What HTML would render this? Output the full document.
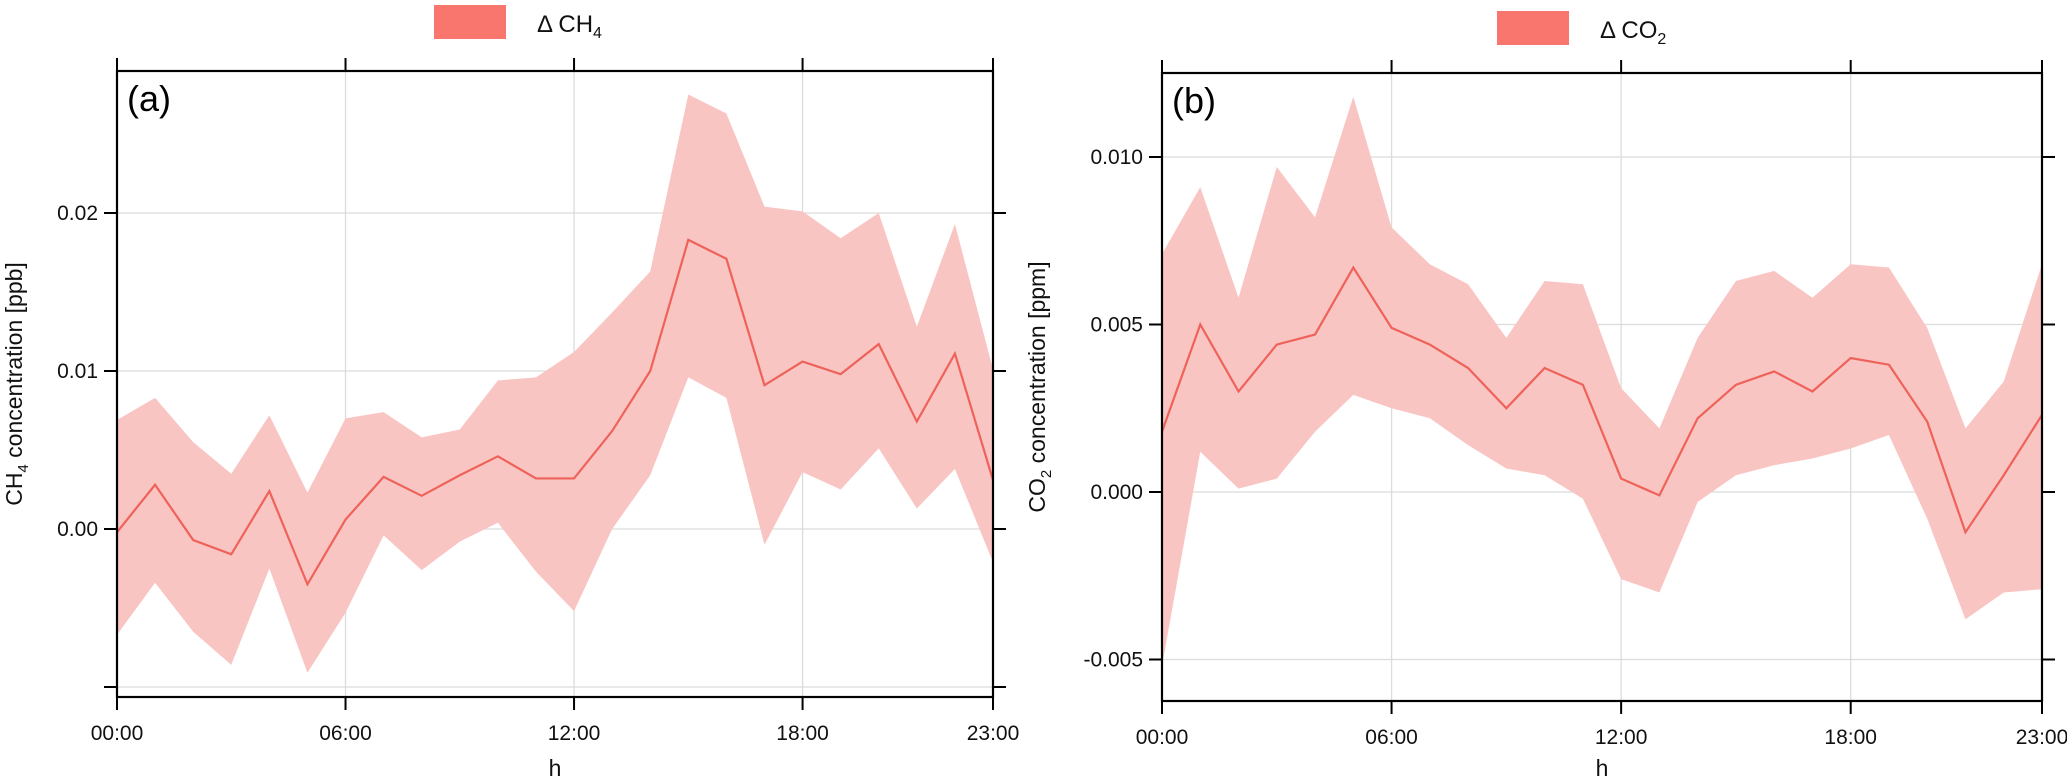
<!DOCTYPE html>
<html><head><meta charset="utf-8"><style>
html,body{margin:0;padding:0;background:#fff;}
svg{display:block;font-family:"Liberation Sans",sans-serif;}
</style></head><body>
<svg id="chart" width="2067" height="783" viewBox="0 0 2067 783" xmlns="http://www.w3.org/2000/svg"></svg>
<script>
const hours = [0,1,2,3,4,5,6,7,8,9,10,11,12,13,14,15,16,17,18,19,20,21,22,23];
const xTickHours = [0,6,12,18,23];
const xTickLabels = ["00:00","06:00","12:00","18:00","23:00"];
const ch4Mean = [-0.0002,0.0028,-0.0007,-0.0016,0.0024,-0.0035,0.0006,0.0033,0.0021,0.0034,0.0046,0.0032,0.0032,0.0062,0.0100,0.0183,0.0171,0.0091,0.0106,0.0098,0.0117,0.0068,0.0111,0.0031];
const ch4Upper = [0.0069,0.0083,0.0055,0.0035,0.0072,0.0023,0.0070,0.0074,0.0058,0.0063,0.0094,0.0096,0.0112,0.0137,0.0163,0.0275,0.0263,0.0204,0.0201,0.0184,0.0200,0.0128,0.0193,0.0101];
const ch4Lower = [-0.0067,-0.0034,-0.0065,-0.0086,-0.0025,-0.0091,-0.0053,-0.0004,-0.0026,-0.0008,0.0004,-0.0027,-0.0052,0.0000,0.0034,0.0096,0.0083,-0.0010,0.0036,0.0025,0.0051,0.0013,0.0038,-0.0021];
const ch4Ticks = [-0.01,0,0.01,0.02];
const ch4TickLabels = ["","0.00","0.01","0.02"];
const co2Mean = [0.0018,0.0050,0.0030,0.0044,0.0047,0.0067,0.0049,0.0044,0.0037,0.0025,0.0037,0.0032,0.0004,-0.0001,0.0022,0.0032,0.0036,0.0030,0.0040,0.0038,0.0021,-0.0012,0.0005,0.0023];
const co2Upper = [0.0071,0.0091,0.0058,0.0097,0.0082,0.0118,0.0079,0.0068,0.0062,0.0046,0.0063,0.0062,0.0031,0.0019,0.0046,0.0063,0.0066,0.0058,0.0068,0.0067,0.0049,0.0019,0.0033,0.0068];
const co2Lower = [-0.0052,0.0012,0.0001,0.0004,0.0018,0.0029,0.0025,0.0022,0.0014,0.0007,0.0005,-0.0002,-0.0026,-0.0030,-0.0003,0.0005,0.0008,0.0010,0.0013,0.0017,-0.0008,-0.0038,-0.0030,-0.0029];
const co2Ticks = [-0.005,0,0.005,0.010];
const co2TickLabels = ["-0.005","0.000","0.005","0.010"];

const NS="http://www.w3.org/2000/svg";
const svg=document.getElementById('chart');
function mk(tag,attrs,parent){const e=document.createElementNS(NS,tag);for(const k in attrs)e.setAttribute(k,attrs[k]);(parent||svg).appendChild(e);return e;}

function panel(cfg){
  const g=mk('g',{});
  
  
  const xs=h=>cfg.left+(h/23)*(cfg.right-cfg.left);
  const ys=v=>cfg.y0-(v/cfg.step)*cfg.stepPx;
  // grid
  xTickHours.forEach(h=>{const l=mk('line',{x1:xs(h),x2:xs(h),y1:cfg.top,y2:cfg.bottom,stroke:'#dcdcdc','stroke-width':1.3},g);
    
    });
  cfg.ticks.forEach(v=>{const l=mk('line',{x1:cfg.left,x2:cfg.right,y1:ys(v),y2:ys(v),stroke:'#dcdcdc','stroke-width':1.3},g);
    
    });
  // band
  let d='';
  hours.forEach((h,i)=>{d+=(i?'L':'M')+xs(h)+','+ys(cfg.upper[i]);});
  for(let i=hours.length-1;i>=0;i--)d+='L'+xs(hours[i])+','+ys(cfg.lower[i]);
  d+='Z';
  const band=mk('path',{d:d,fill:'#f9c5c3',stroke:'none'},g);
  
  
  const pts=hours.map((h,i)=>xs(h)+','+ys(cfg.mean[i])).join(' ');
  const line=mk('polyline',{points:pts,fill:'none',stroke:'#ee6259','stroke-width':2.2},g);
  
  
  // frame
  const fr=mk('rect',{x:cfg.left,y:cfg.top,width:cfg.right-cfg.left,height:cfg.bottom-cfg.top,fill:'none',stroke:'#000','stroke-width':2.2},g);
  
  
  // x ticks
  xTickHours.forEach((h,i)=>{
    mk('line',{x1:xs(h),x2:xs(h),y1:cfg.bottom,y2:cfg.bottom+13,stroke:'#000','stroke-width':2},g);
    mk('line',{x1:xs(h),x2:xs(h),y1:cfg.top,y2:cfg.top-13,stroke:'#000','stroke-width':2},g);
    const t=mk('text',{x:xs(h),y:cfg.bottom+43,'text-anchor':'middle','font-size':21,fill:'#111'},g);
    t.textContent=xTickLabels[i];
    
    
  });
  cfg.ticks.forEach((v,i)=>{
    mk('line',{x1:cfg.left-13,x2:cfg.left,y1:ys(v),y2:ys(v),stroke:'#000','stroke-width':2},g);
    mk('line',{x1:cfg.right,x2:cfg.right+13,y1:ys(v),y2:ys(v),stroke:'#000','stroke-width':2},g);
    if(cfg.tickLabels[i]){
      const t=mk('text',{x:cfg.left-19,y:ys(v)+7,'text-anchor':'end','font-size':21,fill:'#111'},g);
      t.textContent=cfg.tickLabels[i];
      
      
    }
  });
  const xt=mk('text',{x:(cfg.left+cfg.right)/2,y:776,'text-anchor':'middle','font-size':23,fill:'#111'},g);
  xt.textContent='h';
  
  
  const cy=(cfg.top+cfg.bottom)/2;
  const yt=mk('text',{x:cfg.ytx,y:cy,'text-anchor':'middle','font-size':23,fill:'#111',transform:'rotate(-90 '+cfg.ytx+' '+cy+')'},g);
  yt.innerHTML=cfg.gas+'<tspan font-size="15" dy="6">'+cfg.sub+'</tspan><tspan dy="-6"> concentration ['+cfg.unit+']</tspan>';
  
  
  const pl=mk('text',{x:cfg.left+10,y:cfg.top+40,'font-size':36,fill:'#000'},g);
  pl.textContent=cfg.label;
  
  
  const lr=mk('rect',{x:cfg.legX,y:cfg.legY,width:72,height:34,fill:'#f8766d'},g);
  
  
  const lt=mk('text',{x:cfg.legX+103,y:cfg.legY+27,'font-size':24,fill:'#111'},g);
  lt.innerHTML='Δ '+cfg.gas+'<tspan font-size="16" dy="6">'+cfg.sub+'</tspan>';
  
  
}
panel({name:'panel-a-ch4',left:117,right:993,top:71,bottom:697,y0:529,step:0.01,stepPx:158,ticks:ch4Ticks,tickLabels:ch4TickLabels,
  mean:ch4Mean,upper:ch4Upper,lower:ch4Lower,gas:'CH',sub:'4',unit:'ppb',ytx:22,label:'(a)',legX:434,legY:5});
panel({name:'panel-b-co2',left:1162,right:2042,top:73,bottom:701,y0:492,step:0.005,stepPx:167.5,ticks:co2Ticks,tickLabels:co2TickLabels,
  mean:co2Mean,upper:co2Upper,lower:co2Lower,gas:'CO',sub:'2',unit:'ppm',ytx:1045,label:'(b)',legX:1497,legY:11});
</script>
</body></html>
